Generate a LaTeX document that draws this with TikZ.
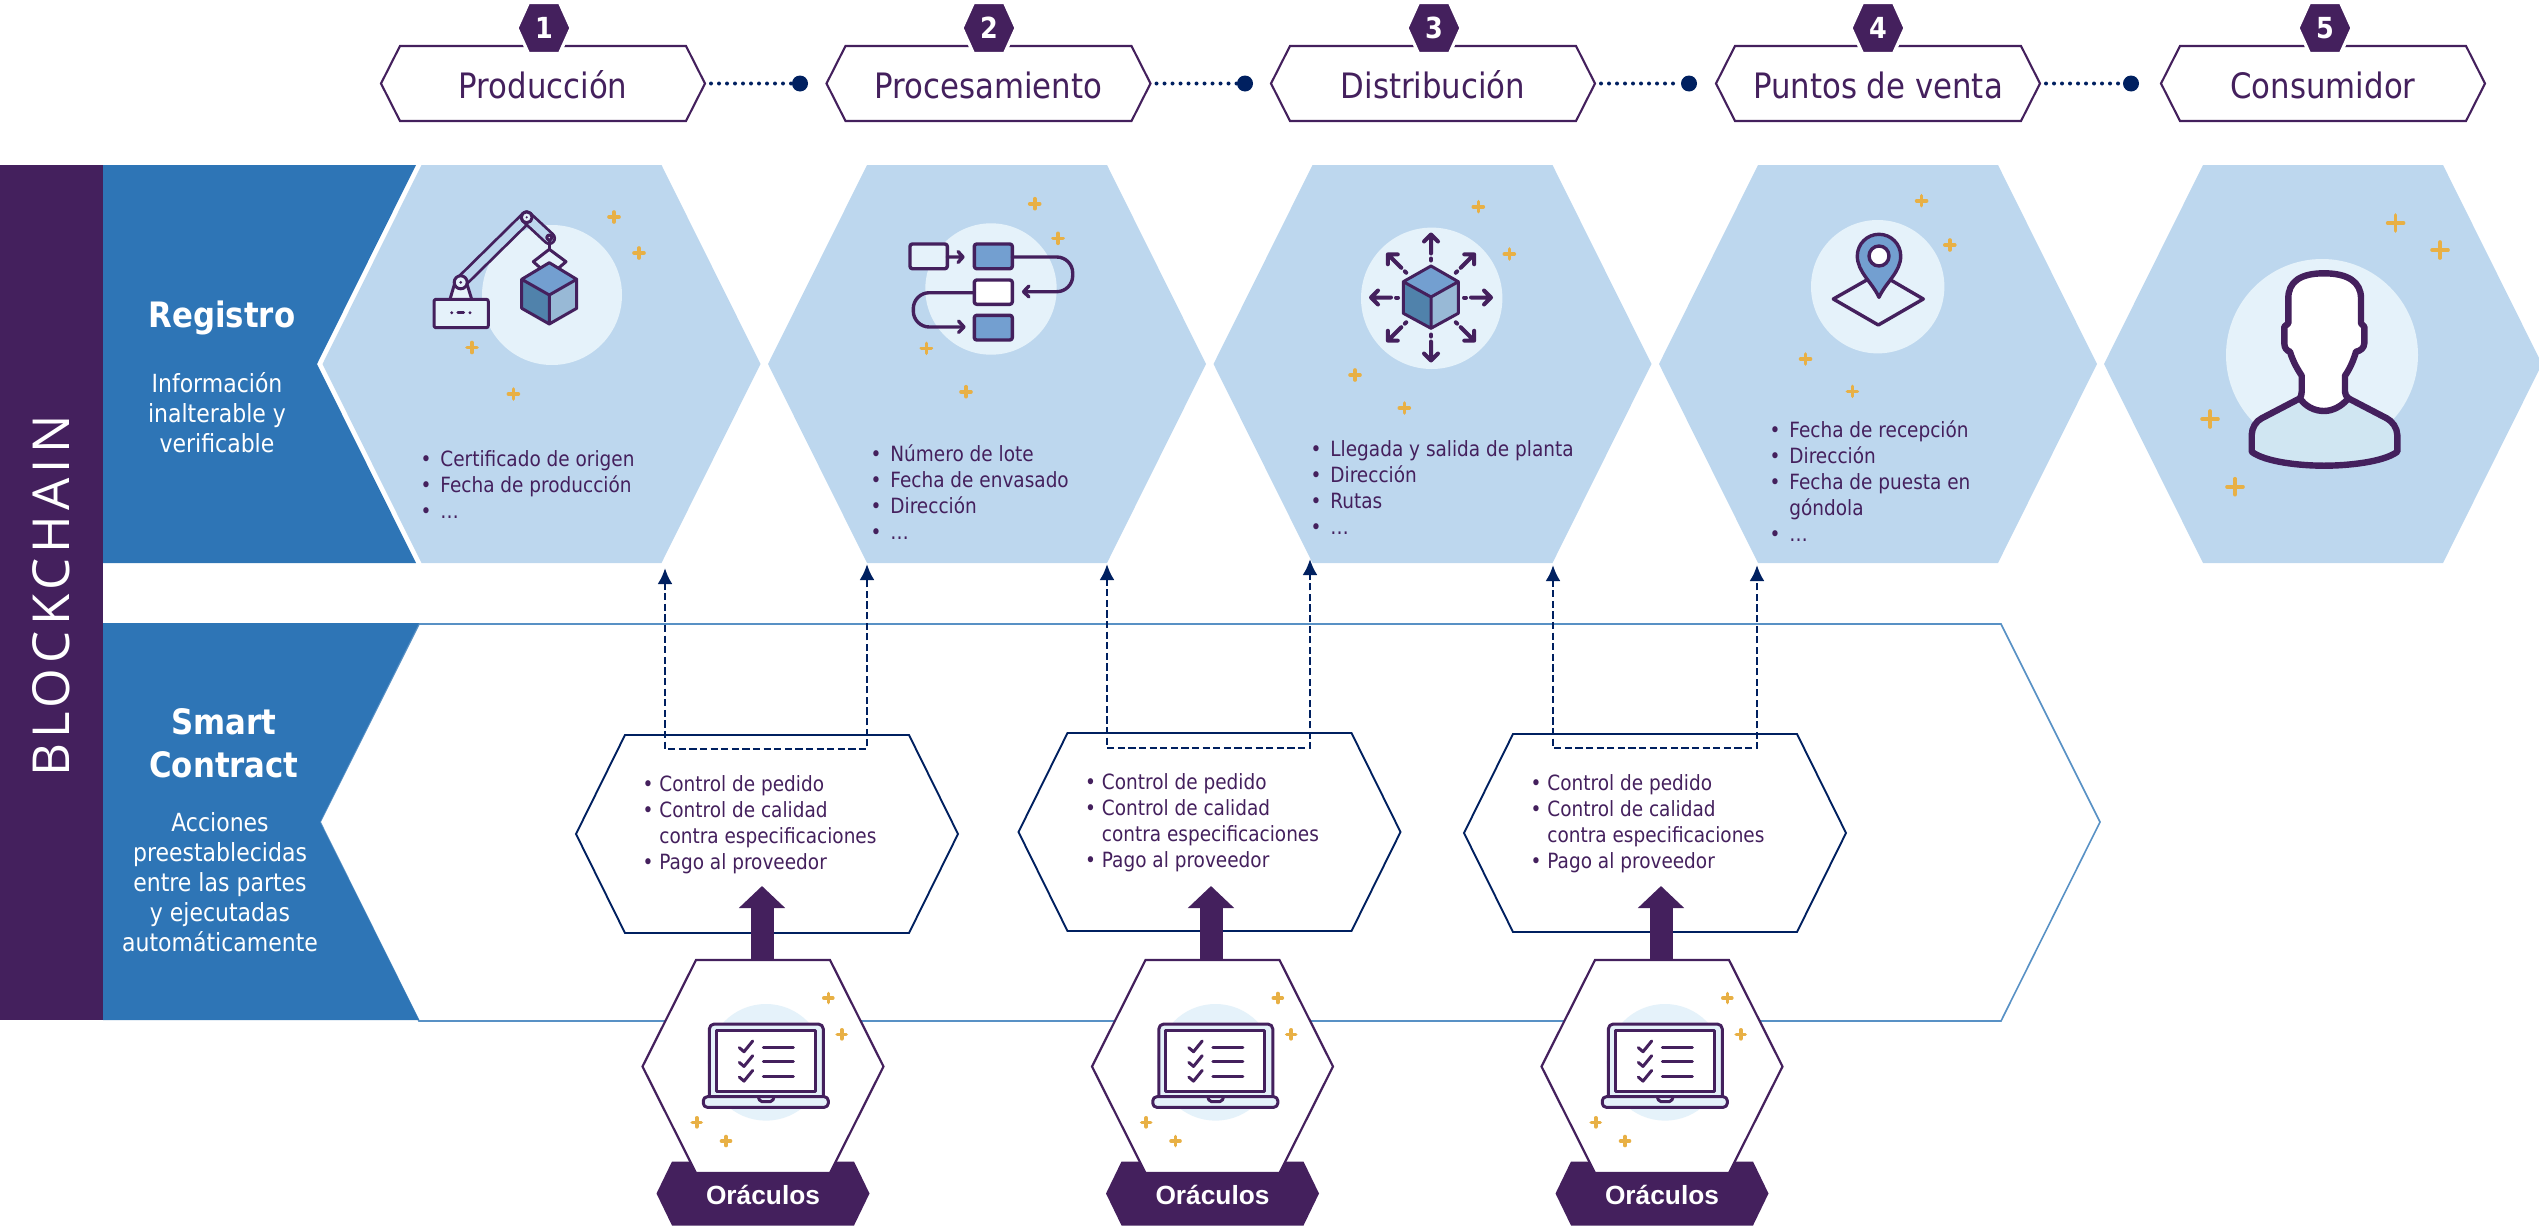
\documentclass[tikz,border=0pt]{standalone}
\usepackage{fontspec}
\setmainfont{DejaVu Sans}[FakeStretch=0.88]
\newfontfamily\arialfont{Liberation Sans}
\newfontfamily\barfont{Open Sans}[LetterSpace=10]
\usetikzlibrary{arrows.meta,calc}
\definecolor{pur}{HTML}{44205D}
\definecolor{blu}{HTML}{2E75B6}
\definecolor{lig}{HTML}{BDD7EE}
\definecolor{pal}{HTML}{E5F2FA}
\definecolor{gld}{HTML}{E8B045}
\definecolor{nav}{HTML}{002060}
\definecolor{cubet}{HTML}{739FD0}
\definecolor{cubel}{HTML}{5082AB}
\definecolor{cuber}{HTML}{98B9D6}
\definecolor{skin}{HTML}{D0E6F2}
% px = 0.5pt
\newcommand\fpx[2]{\fontsize{\dimexpr#1pt/2\relax}{\dimexpr#2pt/2\relax}\selectfont}
\newcommand\bl[1]{\llap{•\hspace{4.5pt}}#1}
\newcommand\blb[1]{\llap{•\hspace{3pt}}#1}
% hexpoly[opts]{name}{cx}{cy}{half width}{half top width}{half height}
\newcommand\hexpoly[7][]{%
  \path[#1] (#3-#5,#4) -- (#3-#6,#4-#7) -- (#3+#6,#4-#7) -- (#3+#5,#4) -- (#3+#6,#4+#7) -- (#3-#6,#4+#7) -- cycle;
  \coordinate (#2-l) at (#3-#5,#4);
  \coordinate (#2-r) at (#3+#5,#4);
  \coordinate (#2-c) at (#3,#4);
  \coordinate (#2-t) at (#3,#4-#7);
  \coordinate (#2-b) at (#3,#4+#7);}
\newcommand\spark[3][5]{\draw[sparkle] (#2-#1,#3) -- (#2+#1,#3) (#2,#3-#1) -- (#2,#3+#1);}
\tikzset{
  sparkle/.style={gld,line width=1.8pt,line cap=round},
  icon/.style={pur,line width=1.7pt,line join=round,line cap=round},
  iconthin/.style={pur,line width=1.5pt,line join=round,line cap=round},
  whitehead/.style={text=white,font=\fpx{35}{43}\bfseries,align=center,inner sep=0},
  whitebody/.style={text=white,font=\fpx{25}{30}\selectfont,align=center,inner sep=0},
  blist/.style={text=pur,font=\fpx{21}{26}\selectfont,align=left,anchor=west,inner sep=0},
  steptitle/.style={text=pur,font=\fpx{35}{40}\selectfont,inner sep=0},
  chev/.style={draw=pur,fill=white,line width=1.05pt,line join=miter},
  numhex/.style={fill=pur,draw=white,line width=1.6pt},
  numtxt/.style={text=white,font=\fpx{29}{30}\bfseries,inner sep=0},
  lighthex/.style={fill=lig},
  smarthex/.style={draw=nav,fill=white,line width=0.95pt},
  orahex/.style={draw=pur,fill=white,line width=1.1pt},
  dotconn/.style={nav,line width=2pt,line cap=round,dash pattern=on 0pt off 4pt},
  dashconn/.style={nav,line width=1.45pt,dash pattern=on 3.6pt off 1.7pt,{Latex[width=7.5pt,length=8pt]}-{Latex[width=7.5pt,length=8pt]}},
  bigarrow/.style={pur,line width=11.5pt,-{Triangle[width=22.5pt,length=11pt]}},
  enddot/.style={circle,fill=nav,inner sep=0,minimum size=8pt},
  dot/.style={pur,line width=1.6pt,line cap=round}
}
\begin{document}
\begin{tikzpicture}[x=0.5pt,y=-0.5pt]
\useasboundingbox (0,0) rectangle (2539,1232);
\clip (0,0) rectangle (2539,1232);
% --- left bands
\fill[pur] (0,165) rectangle (103,1020);
\fill[blu] (103,165) -- (416,165) -- (317,364) -- (416,563) -- (103,563) -- cycle;
\node[rotate=90,text=white,inner sep=0] (chain) at (51,596) {\barfont\fpx{51}{60}BLOCKCHAIN};
% --- registro
\node[whitehead] (regt) at (222,318) {Registro};
\node[whitebody] (regb) at (217,413) {Información\\inalterable y\\verificable};
% --- light hexagons
\hexpoly[lighthex]{h1}{541.5}{364}{219}{120}{199}
\hexpoly[lighthex]{h2}{987}{364}{219}{120}{199}
\hexpoly[lighthex]{h3}{1432.5}{364}{219}{120}{199}
\hexpoly[lighthex]{h4}{1878}{364}{219}{120}{199}
\hexpoly[lighthex]{h5}{2323}{364}{219}{120}{199}
% --- smart contract band
\path[draw=blu!80,line width=0.8pt,fill=white] (419,624) -- (2001,624) -- (2100,822) -- (2001,1021) -- (419,1021) -- (320,822) -- cycle;
\fill[blu] (103,623) -- (419,623) -- (320,822) -- (419,1020) -- (103,1020) -- cycle;
\node[whitehead] (sct) at (224,743.5) {Smart\\Contract};
\node[whitebody] (scb) at (220,882) {Acciones\\preestablecidas\\entre las partes\\y ejecutadas\\automáticamente};
% --- top chevrons
\foreach \n/\cx/\lab/\nx in {1/543/Producción/544,2/988.5/Procesamiento/989,3/1433/Distribución/1434,4/1878/Puntos de venta/1878,5/2323/Consumidor/2325}{
  \hexpoly[chev]{c\n}{\cx}{83.5}{162}{143}{37.5}
  \node[steptitle] (ct\n) at (\cx,85) {\lab};
  \hexpoly[numhex]{n\n}{\nx}{28}{27}{15.5}{25.5}
  \node[numtxt] (nt\n) at (\nx,28) {\n};
}
\foreach \n/\dx in {1/800,2/1245,3/1689,4/2131}{
  \node[enddot] (d\n) at (\dx,83.5) {};
  \draw[dotconn] ($(c\n-r)+(6,0)$) -- (d\n);
}
% --- bullet lists
\node[blist] (l1) at (440,484.5) {\bl{Certificado de origen}\\\bl{Fecha de producción}\\\bl{…}};
\node[blist] (l2) at (890,492) {\bl{Número de lote}\\\bl{Fecha de envasado}\\\bl{Dirección}\\\bl{…}};
\node[blist] (l3) at (1330,488) {\bl{Llegada y salida de planta}\\\bl{Dirección}\\\bl{Rutas}\\\bl{…}};
\node[blist] (l4) at (1789,481) {\bl{Fecha de recepción}\\\bl{Dirección}\\\bl{Fecha de puesta en}\\\hspace*{0pt}góndola\\\bl{…}};
% --- icon 1: robot arm
\fill[pal] (552,295) circle[radius=70];
\draw[iconthin,fill=pal] (450,299.3) -- (454.5,284) -- (467,284) -- (471.7,299.3);
\draw[pur,line width=6.8pt,line cap=round] (460.7,282.3) -- (526.7,217.3);
\draw[lig,line width=4pt,line cap=round] (460.7,282.3) -- (526.7,217.3);
\draw[pur,line width=6.8pt,line cap=round] (526.7,217.3) -- (549.3,238.3);
\draw[lig,line width=4pt,line cap=round] (526.7,217.3) -- (549.3,238.3);
\draw[iconthin,fill=pal] (460.7,282.3) circle[radius=6.5];
\fill[pur] (460.7,282.3) circle[radius=1.5];
\draw[iconthin,fill=pal] (526.7,217.3) circle[radius=5.5];
\fill[pur] (526.7,217.3) circle[radius=1.2];
\draw[iconthin,fill=pal] (549.3,237.5) circle[radius=2.5];
\draw[iconthin] (549.3,241) -- (549.3,249.3);
\draw[iconthin,fill=pal] (540.7,268.3) -- (533.3,261.7) -- (549.3,249.3) -- (566,261.7) -- (558.3,268.3);
\draw[iconthin,fill=pal,rounded corners=1pt] (434,299.3) rectangle (488.3,327.7);
\draw[dot] (451.7,312.7) -- (451.7,312.7) (458,312.7) -- (463.5,312.7) (470,312.7) -- (470,312.7);
\fill[cubet] (549.3,262.7) -- (576.7,279.3) -- (549.3,295) -- (521.7,279.3) -- cycle;
\fill[cubel] (521.7,279.3) -- (549.3,295) -- (549.3,324) -- (521.7,308.3) -- cycle;
\fill[cuber] (576.7,279.3) -- (549.3,295) -- (549.3,324) -- (576.7,308.3) -- cycle;
\draw[iconthin] (549.3,262.7) -- (576.7,279.3) -- (576.7,308.3) -- (549.3,324) -- (521.7,308.3) -- (521.7,279.3) -- cycle (521.7,279.3) -- (549.3,295) -- (576.7,279.3) (549.3,295) -- (549.3,324);
\spark{614}{217}\spark{639}{253}\spark{472}{347.5}\spark{513.4}{394}
% --- icon 2: flow
\fill[pal] (991,289) circle[radius=65.7];
\draw[icon,fill=pal,rounded corners=1.2pt] (910,244) rectangle (947.3,268.7);
\draw[icon,fill=cubet,rounded corners=1.2pt] (974.3,244) rectangle (1012.3,268.7);
\draw[icon,fill=white,rounded corners=1.2pt] (974.3,280) rectangle (1012.3,304.3);
\draw[icon,fill=cubet,rounded corners=1.2pt] (974.3,315.3) rectangle (1012.3,340);
\draw[icon] (947.3,257) -- (963,257) (958,251.5) -- (963,257) -- (958,262.5);
\draw[icon,rounded corners=8pt] (1012.3,257) -- (1072.7,257) -- (1072.7,291.7) -- (1023.5,291.7);
\draw[icon] (1029,286) -- (1023.5,291.7) -- (1029,297);
\draw[icon,rounded corners=8pt] (974.3,292.7) -- (913.3,292.7) -- (913.3,327) -- (964,327);
\draw[icon] (958.5,321) -- (964,327) -- (958.5,332.5);
\spark{1034.7}{203.7}\spark{1058}{238.3}\spark{926.3}{348.3}\spark{966}{391.7}
% --- icon 3: cube with arrows
\fill[pal] (1431.7,298.3) circle[radius=70.7];
\begin{scope}[shift={(1431,297.5)}]
  \foreach \a/\ro/\ri/\dd in {90/63/44/38,-90/63/44/38,0/60/40/34,180/60/40/34,45/61/42/36,135/61/42/36,-45/61/42/36,-135/61/42/36}{
    \begin{scope}[rotate=-\a]
      \draw[icon,line width=2pt] (\ri,0) -- (\ro,0) (\ro-7,-7) -- (\ro,0) -- (\ro-7,7);
      \draw[icon,line width=2pt] (\dd-1,0) -- (\dd+1,0);
    \end{scope}
  }
\end{scope}
\fill[cubet] (1431,266) -- (1458.3,281.7) -- (1431,297) -- (1403.3,281.7) -- cycle;
\fill[cubel] (1403.3,281.7) -- (1431,297) -- (1431,328.3) -- (1403.3,313.3) -- cycle;
\fill[cuber] (1458.3,281.7) -- (1431,297) -- (1431,328.3) -- (1458.3,313.3) -- cycle;
\draw[iconthin] (1431,266) -- (1458.3,281.7) -- (1458.3,313.3) -- (1431,328.3) -- (1403.3,313.3) -- (1403.3,281.7) -- cycle (1403.3,281.7) -- (1431,297) -- (1458.3,281.7) (1431,297) -- (1431,328.3);
\spark{1478.3}{206.7}\spark{1509.3}{254}\spark{1355}{375}\spark{1404.3}{408}
% --- icon 4: pin on map
\fill[pal] (1877.7,286.7) circle[radius=66.7];
\draw[icon] (1866.7,280) -- (1833.3,299) -- (1878.3,325) -- (1923.3,299) -- (1890.7,280);
\draw[icon,fill=cubet] (1879,297.3) .. controls (1872,282) and (1857.3,272) .. (1857.3,256) .. controls (1857.3,244) and (1867,234.3) .. (1879,234.3) .. controls (1891,234.3) and (1900.7,244) .. (1900.7,256) .. controls (1900.7,272) and (1886,282) .. (1879,297.3) -- cycle;
\draw[icon,fill=white] (1879,256) circle[radius=10];
\spark{1921.6}{200.7}\spark{1949.8}{245}\spark{1805.5}{359}\spark{1852.4}{391.3}
% --- icon 5: person
\fill[pal] (2322,355) circle[radius=96];
\draw[pur,line width=3.2pt,line join=round,fill=skin] (2300,398.3) -- (2261.7,418.3) .. controls (2256,421) and (2251.7,428) .. (2251.7,435) -- (2251.7,451.7) .. controls (2265,462) and (2300,465.7) .. (2324,465.7) .. controls (2348,465.7) and (2384,462) .. (2397.3,451.7) -- (2397.3,435) .. controls (2397.3,428) and (2392,421) .. (2386.7,418.3) -- (2348.3,398.3) -- cycle;
\draw[pur,line width=3.2pt,line join=round,fill=white] (2324,273.3) .. controls (2300,273.3) and (2288.3,282) .. (2288.3,298.3) -- (2288.3,323.3) -- (2284.3,326.7) -- (2284.3,343.3) .. controls (2284.3,348) and (2287,351) .. (2290,351.7) .. controls (2293,362) and (2298,370) .. (2301.7,375.7) -- (2301.7,391.7) .. controls (2301.7,394) and (2301,396) .. (2300,398.3) .. controls (2305,406) and (2314,411) .. (2324,411) .. controls (2333,411) and (2342,406) .. (2348.3,398.3) .. controls (2346,396) and (2345,394) .. (2345,391.7) -- (2345,375.7) .. controls (2349,370) and (2353,362) .. (2356,351.7) .. controls (2360,351) and (2364.3,348) .. (2364.3,343.3) -- (2364.3,326.7) -- (2361,323.3) -- (2361,298.3) .. controls (2361,282) and (2348,273.3) .. (2324,273.3) -- cycle;
\spark[8]{2395.6}{223}\spark[8]{2440}{250}\spark[8]{2210}{419}\spark[8]{2235}{486.7}
% --- smart contract hexes
\foreach \n/\cx/\cy/\dy in {1/767/834/0,2/1209.5/832/-2.5,3/1655/833/-1.5}{
  \hexpoly[smarthex]{s\n}{\cx}{\cy}{191}{142}{99}
  \node[blist] (sl\n) at (\cx-108,825+\dy) {\blb{Control de pedido}\\\blb{Control de calidad}\\contra especificaciones\\\blb{Pago al proveedor}};
}
\foreach \n/\xa/\xb/\ta/\tb/\yy in {1/665/867/568/564/749,2/1107/1310/564/559/748,3/1553/1757/565/565/748}{
  \coordinate (tl\n) at (\xa,\ta);
  \coordinate (tr\n) at (\xb,\tb);
  \coordinate (cl\n) at (\xa,\yy);
  \coordinate (cr\n) at (\xb,\yy);
  \draw[dashconn] (tl\n) -- (cl\n) -- (cr\n) -- (tr\n);
}
% --- oracles
\foreach \n/\dx/\ax in {1/0/762,2/449.5/1211,3/899/1661}{
\begin{scope}[shift={(\dx,0)}]
  \hexpoly[fill=pur]{b\n}{763}{1193.5}{106.5}{91}{32}
  \coordinate (at\n) at (\ax-\dx,886);
  \coordinate (ab\n) at (\ax-\dx,962);
  \draw[bigarrow] (ab\n) -- (at\n);
  \hexpoly[orahex]{o\n}{763}{1066.5}{120.5}{67}{106.5}
  \node[text=white,inner sep=0,font=\arialfont\bfseries\fpx{26.3}{30}] (ot\n) at (763,1195) {Oráculos};
  \fill[pal] (766,1062.3) circle[radius=58.3];
  \draw[iconthin,fill=pal,rounded corners=2.5pt] (709.3,1096.7) -- (709.3,1024) -- (823.3,1024) -- (823.3,1096.7);
  \draw[iconthin,fill=white] (716,1030) rectangle (815,1091);
  \draw[iconthin,fill=pal,rounded corners=2pt] (703.3,1096.7) rectangle (828.3,1107.3);
  \draw[iconthin,rounded corners=1pt] (758.3,1097) -- (760,1101.7) -- (772.3,1101.7) -- (774,1097);
  \foreach \yy in {0,14.7,29.4}{
    \draw[iconthin] (739.3,1047.7+\yy) -- (744,1051.7+\yy) -- (752.7,1041+\yy);
    \draw[iconthin] (763.3,1047+\yy) -- (793.3,1047+\yy);
  }
  \spark[4.5]{828.3}{998}\spark[4.5]{841.7}{1034.3}\spark[4.5]{696.7}{1122.3}\spark[4.5]{726}{1141}
\end{scope}
}
\end{tikzpicture}
\end{document}
